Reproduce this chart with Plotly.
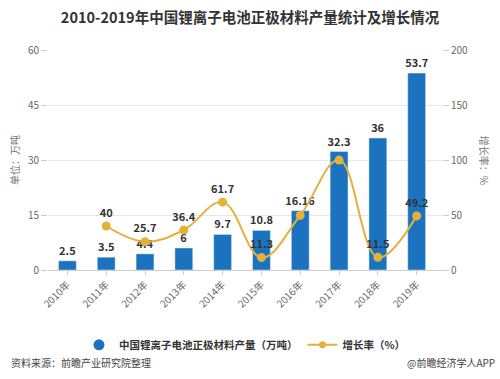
import plotly.graph_objects as go

years = ["2010年", "2011年", "2012年", "2013年", "2014年", "2015年", "2016年", "2017年", "2018年", "2019年"]
output = [2.5, 3.5, 4.4, 6, 9.7, 10.8, 16.16, 32.3, 36, 53.7]
output_labels = ["2.5", "3.5", "4.4", "6", "9.7", "10.8", "16.16", "32.3", "36", "53.7"]
growth_years = years[1:]
growth = [40, 25.7, 36.4, 61.7, 11.3, 49.6, 99.9, 11.5, 49.2]
growth_labels = ["40", "25.7", "36.4", "61.7", "11.3", "", "", "11.5", "49.2"]

BLUE = "#1b72be"
GOLD = "#e3b23c"
FONT = "Noto Sans CJK SC"

fig = go.Figure()
fig.add_trace(go.Bar(
    x=years, y=output, marker_color=BLUE, width=0.46,
    text=["<b>%s</b>" % t for t in output_labels], textposition="outside", cliponaxis=False,
    constraintext="none",
    textfont=dict(size=11, color="#333333", family=FONT),
    showlegend=False, yaxis="y",
))
fig.add_trace(go.Scatter(
    x=growth_years, y=growth, mode="lines+markers+text", yaxis="y2",
    line=dict(color=GOLD, width=2, shape="spline", smoothing=1.1),
    marker=dict(color=GOLD, size=9),
    text=["<b>%s</b>" % t if t else "" for t in growth_labels], textposition="top center",
    cliponaxis=False,
    textfont=dict(size=11, color="#333333", family=FONT),
    showlegend=False,
))
# legend proxies
fig.add_trace(go.Scatter(
    x=[None], y=[None], mode="markers", name="<b>中国锂离子电池正极材料产量（万吨）</b>",
    marker=dict(color=BLUE, size=11, symbol="circle"),
))
fig.add_trace(go.Scatter(
    x=[None], y=[None], mode="lines+markers", name="<b>增长率（%）</b>",
    line=dict(color=GOLD, width=2), marker=dict(color=GOLD, size=7),
))

fig.update_layout(
    width=500, height=379,
    margin=dict(l=48, r=58, t=50, b=109, autoexpand=False),
    paper_bgcolor="white", plot_bgcolor="white",
    font=dict(family=FONT, color="#555555", size=11),
    title=dict(text="<b>2010-2019年中国锂离子电池正极材料产量统计及增长情况</b>",
               x=0.5, xanchor="center", y=0.952, yanchor="middle",
               font=dict(size=14.5, color="#333333", family=FONT)),
    bargap=0.5,
    xaxis=dict(type="category", tickangle=-45, tickfont=dict(size=10, color="#666666"),
               showline=True, linecolor="#cccccc", ticks="outside", ticklen=4,
               tickcolor="#cccccc", showgrid=False, automargin=False),
    yaxis=dict(range=[0, 60], tickvals=[0, 15, 30, 45, 60], showgrid=True, automargin=False,
               gridcolor="#e6e6e6", zeroline=False, tickfont=dict(size=10, color="#666666"),
               ticks="outside", ticklen=6, tickcolor="#cccccc",
               title=dict(text="单位：万吨", font=dict(size=10, color="#777777"), standoff=6)),
    yaxis2=dict(range=[0, 200], tickvals=[0, 50, 100, 150, 200], overlaying="y", side="right",
                showgrid=False, zeroline=False, tickfont=dict(size=10, color="#666666"),
                ticks="outside", ticklen=6, tickcolor="#cccccc", automargin=False),
    legend=dict(orientation="h", x=0.5, xanchor="center", y=-0.34, yanchor="middle",
                font=dict(size=10.5, color="#333333"), itemwidth=30),
)
fig.add_annotation(text="增长率：%", xref="paper", yref="paper", textangle=90,
                   x=1.11, y=0.5, xanchor="center", yanchor="middle", showarrow=False,
                   font=dict(size=10, color="#777777"))
fig.add_annotation(text="资料来源：前瞻产业研究院整理", xref="paper", yref="paper",
                   x=-0.10, y=-0.42, xanchor="left", yanchor="middle", showarrow=False,
                   font=dict(size=10, color="#444444"))
fig.add_annotation(text="@前瞻经济学人APP", xref="paper", yref="paper",
                   x=1.14, y=-0.42, xanchor="right", yanchor="middle", showarrow=False,
                   font=dict(size=10, color="#444444"))
fig.write_html("out.html", config={"displayModeBar": False},
               post_script="document.body.style.margin='0';document.body.style.overflow='hidden';")
